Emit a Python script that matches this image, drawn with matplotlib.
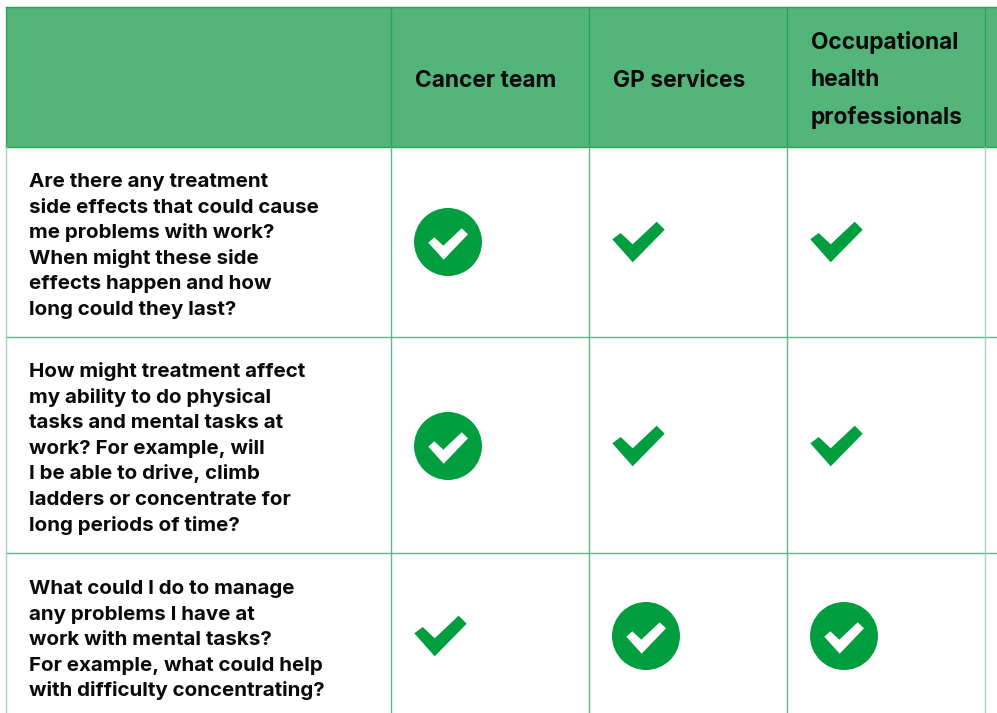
import matplotlib
matplotlib.use('Agg')
import matplotlib.pyplot as plt
from matplotlib.patches import Circle, Polygon, Rectangle

# Table content
columns = [['Cancer team'],
           ['GP services'],
           ['Occupational', 'health', 'professionals']]
questions = [['Are there any treatment',
              'side effects that could cause',
              'me problems with work?',
              'When might these side',
              'effects happen and how',
              'long could they last?'],
             ['How might treatment affect',
              'my ability to do physical',
              'tasks and mental tasks at',
              'work? For example, will',
              'I be able to drive, climb',
              'ladders or concentrate for',
              'long periods of time?'],
             ['What could I do to manage',
              'any problems I have at',
              'work with mental tasks?',
              'For example, what could help',
              'with difficulty concentrating?']]
# 2 = tick in a circle (main source), 1 = plain tick
marks = [[2, 1, 1],
         [2, 1, 1],
         [1, 2, 2]]

GREEN = '#009e3f'
HEADER = '#53b57a'
HEADER_LINE = '#22a653'
BODY_LINE = '#62b585'
EDGE_LINE = '#a3d6b5'

# Layout in pixels
W, H = 997, 713
col_x = [391, 589, 787, 985]
row_y = [147, 337, 553]
mark_y = [242, 446, 636]
first_base = [187, 377, 594]
TICK = [(-25.7, -2.7), (-17.3, -9), (-5.3, 2.3), (18.7, -20.3),
        (26.7, -12.3), (-5.3, 20.3)]
INNER = [(-19.7, 0.7), (-13.7, -4.7), (-4.7, 3.7), (13.7, -13.7),
         (20, -7.7), (-4.3, 17.7)]

plt.rcParams['font.family'] = ['Inter', 'DejaVu Sans']

fig = plt.figure(figsize=(W / 100, H / 100), dpi=100)
ax = fig.add_axes([0, 0, 1, 1])
ax.set_xlim(0, W)
ax.set_ylim(H, 0)
ax.axis('off')


def shifted(points, x, y):
    return [(x + dx, y + dy) for dx, dy in points]


# Header band
ax.add_patch(Rectangle((6, 7), W - 6, 140, facecolor=HEADER, edgecolor='none'))
ax.plot([6, W], [7, 7], color=HEADER_LINE, lw=1.0)
ax.plot([6, W], [147, 147], color=HEADER_LINE, lw=1.0)
for x in [6] + col_x:
    ax.plot([x, x], [7, 147], color=HEADER_LINE, lw=0.9)

# Body grid
for y in row_y[1:]:
    ax.plot([6, W], [y, y], color=BODY_LINE, lw=1.0)
for x in col_x[:-1]:
    ax.plot([x, x], [147, H], color=BODY_LINE, lw=1.0)
ax.plot([6, 6], [147, H], color=EDGE_LINE, lw=1.0)
ax.plot([col_x[-1], col_x[-1]], [147, H], color=EDGE_LINE, lw=1.0)

# Header labels
for x, lines in zip(col_x, columns):
    base = 87 if len(lines) == 1 else 49
    for i, line in enumerate(lines):
        ax.text(x + 23.5, base + i * 37.5, line, fontsize=16.4, weight='bold',
                color='#0a0a0a', va='baseline', ha='left')

# Questions
for base, lines in zip(first_base, questions):
    for i, line in enumerate(lines):
        ax.text(28.5, base + i * 25.6, line, fontsize=14.8, weight='bold',
                color='#0a0a0a', va='baseline', ha='left')

# Marks
for y, row in zip(mark_y, marks):
    for j, kind in enumerate(row):
        if kind == 2:
            x = col_x[j] + 57
            ax.add_patch(Circle((x, y), 34, facecolor=GREEN, edgecolor='none'))
            ax.add_patch(Polygon(shifted(INNER, x, y), facecolor='white',
                                 edgecolor='none'))
        else:
            x = col_x[j] + 49
            ax.add_patch(Polygon(shifted(TICK, x, y), facecolor=GREEN,
                                 edgecolor='none'))

fig.savefig('out.png', dpi=100, facecolor='white')
